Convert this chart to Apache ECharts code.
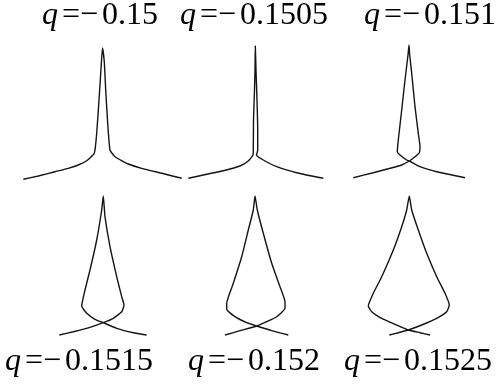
<!DOCTYPE html>
<html>
<head>
<meta charset="utf-8">
<script src="https://cdn.jsdelivr.net/npm/echarts@6/dist/echarts.min.js"></script>
<style>
  html, body { margin: 0; padding: 0; background: #fff; }
  #chart { width: 499px; height: 386px; }
</style>
</head>
<body>
<div id="chart"></div>
<script>
// Parameter values shown under / above each panel
const qValues = ['−0.15', '−0.1505', '−0.151', '−0.1515', '−0.152', '−0.1525'];

// Curve traces for each q, as [x, y] pairs in panel units (y measured up from the panel floor)
const curveQ0150 = [
  [-7.97, 0.57], [-6.47, 0.90], [-4.80, 1.33], [-3.47, 1.67], [-2.47, 2.00], [-1.63, 2.43],
  [-0.87, 3.17], [-0.63, 5.17], [-0.40, 8.50], [-0.20, 11.60], [-0.05, 13.70],
  [0.13, 12.30], [0.27, 9.50], [0.47, 6.17], [0.70, 3.50], [1.20, 2.83], [2.53, 2.10],
  [3.87, 1.67], [5.87, 1.17], [7.87, 0.67]
];
const curveQ01505 = [
  [-6.77, 0.67], [-4.93, 1.07], [-3.27, 1.43], [-1.60, 1.90], [-0.77, 2.40], [-0.30, 3.00],
  [-0.27, 3.50], [-0.25, 6.50], [-0.15, 9.50], [-0.10, 11.50], [-0.07, 13.90],
  [0.00, 11.50], [0.10, 8.50], [0.17, 5.50], [0.17, 3.50], [0.05, 3.00], [0.73, 2.50],
  [2.07, 1.83], [4.07, 1.23], [6.73, 0.67]
];
const curveQ0151 = [
  [-5.57, 0.73], [-3.57, 1.23], [-1.90, 1.67], [-0.73, 2.00], [0.03, 2.40], [0.60, 2.83],
  [1.03, 3.23], [1.10, 3.83], [0.93, 5.17], [0.60, 7.83], [0.27, 11.17], [0.07, 13.00],
  [0.00, 14.00], [-0.10, 13.00], [-0.40, 10.50], [-0.73, 7.50], [-1.07, 4.50], [-1.17, 3.33],
  [-0.90, 3.00], [-0.23, 2.50], [0.03, 2.40], [1.10, 1.83], [2.77, 1.33], [5.60, 0.73]
];
const curveQ01515 = [
  [-4.37, 0.50], [-2.97, 0.83], [-1.30, 1.27], [0.03, 1.73], [1.03, 2.17], [1.87, 2.83],
  [2.10, 3.50], [1.87, 4.33], [1.37, 6.33], [0.70, 9.33], [0.20, 12.33], [0.03, 14.40],
  [-0.13, 13.00], [-0.63, 10.00], [-1.30, 7.00], [-1.80, 5.00], [-2.13, 3.40], [-1.63, 2.67],
  [-0.80, 2.07], [0.03, 1.73], [1.37, 1.17], [3.03, 0.73], [4.37, 0.50]
];
const curveQ0152 = [
  [-3.00, 0.50], [-1.50, 0.93], [0.17, 1.40], [1.17, 1.83], [2.17, 2.33], [3.00, 3.17],
  [3.00, 3.83], [2.50, 5.33], [1.67, 7.67], [0.83, 10.67], [0.23, 13.00], [0.00, 14.40],
  [-0.17, 13.00], [-0.67, 11.00], [-1.33, 8.33], [-2.17, 5.67], [-2.83, 3.67], [-2.83, 3.07],
  [-2.00, 2.33], [-0.83, 1.73], [0.17, 1.40], [1.67, 0.93], [3.33, 0.50]
];
const curveQ01525 = [
  [-1.97, 0.50], [-1.07, 0.73], [-0.07, 1.00], [1.27, 1.50], [2.77, 2.17], [3.77, 2.83],
  [4.03, 3.50], [3.60, 4.67], [2.77, 6.33], [1.77, 8.67], [0.93, 11.00], [0.27, 13.00],
  [0.03, 14.40], [-0.23, 13.00], [-0.73, 11.33], [-1.57, 9.00], [-2.73, 6.33], [-3.57, 4.67],
  [-4.07, 3.40], [-3.73, 2.83], [-2.73, 2.17], [-1.40, 1.57], [-0.07, 1.00], [1.10, 0.73],
  [2.10, 0.50]
];

const curves = [curveQ0150, curveQ01505, curveQ0151, curveQ01515, curveQ0152, curveQ01525];

// Panel layout: horizontal centre of each panel, and where its label starts
const panelCenters = [103, 256, 409, 103, 255, 409];
const labelLeft = [42, 180, 364, 5, 188, 344];
const rowTop = [35, 190];
const labelTop = [0, 346];

const chart = echarts.init(document.getElementById('chart'), null, { renderer: 'canvas' });

const textBase = { fontFamily: 'Liberation Serif', fontWeight: 'normal', color: '#000', lineHeight: 32 };

const grids = [], xAxes = [], yAxes = [], series = [], titles = [];
curves.forEach((data, i) => {
  const row = i < 3 ? 0 : 1;
  grids.push({ left: panelCenters[i] - 90, top: rowTop[row], width: 180, height: 150 });
  xAxes.push({ gridIndex: i, type: 'value', min: -9, max: 9, show: false });
  yAxes.push({ gridIndex: i, type: 'value', min: 0, max: 15, show: false });
  series.push({
    type: 'line',
    xAxisIndex: i,
    yAxisIndex: i,
    data: data,
    symbol: 'none',
    smooth: 0.15,
    silent: true,
    lineStyle: { color: '#141414', width: 1.4 }
  });
  titles.push({
    text: '{q|q}{sp| }{o|=−}{sp| }{v|' + qValues[i].slice(1) + '}',
    left: labelLeft[i],
    top: labelTop[row],
    padding: 0,
    textStyle: {
      fontWeight: 'normal',
      fontFamily: 'Liberation Serif',
      fontSize: 32,
      rich: {
        q: Object.assign({}, textBase, { fontStyle: 'italic', fontSize: 32 }),
        sp: Object.assign({}, textBase, { fontSize: 16 }),
        o: Object.assign({}, textBase, { fontSize: 32 }),
        v: Object.assign({}, textBase, { fontSize: 32 })
      }
    }
  });
});

chart.setOption({
  backgroundColor: '#fff',
  animation: false,
  title: titles,
  grid: grids,
  xAxis: xAxes,
  yAxis: yAxes,
  series: series
});
</script>
</body>
</html>
